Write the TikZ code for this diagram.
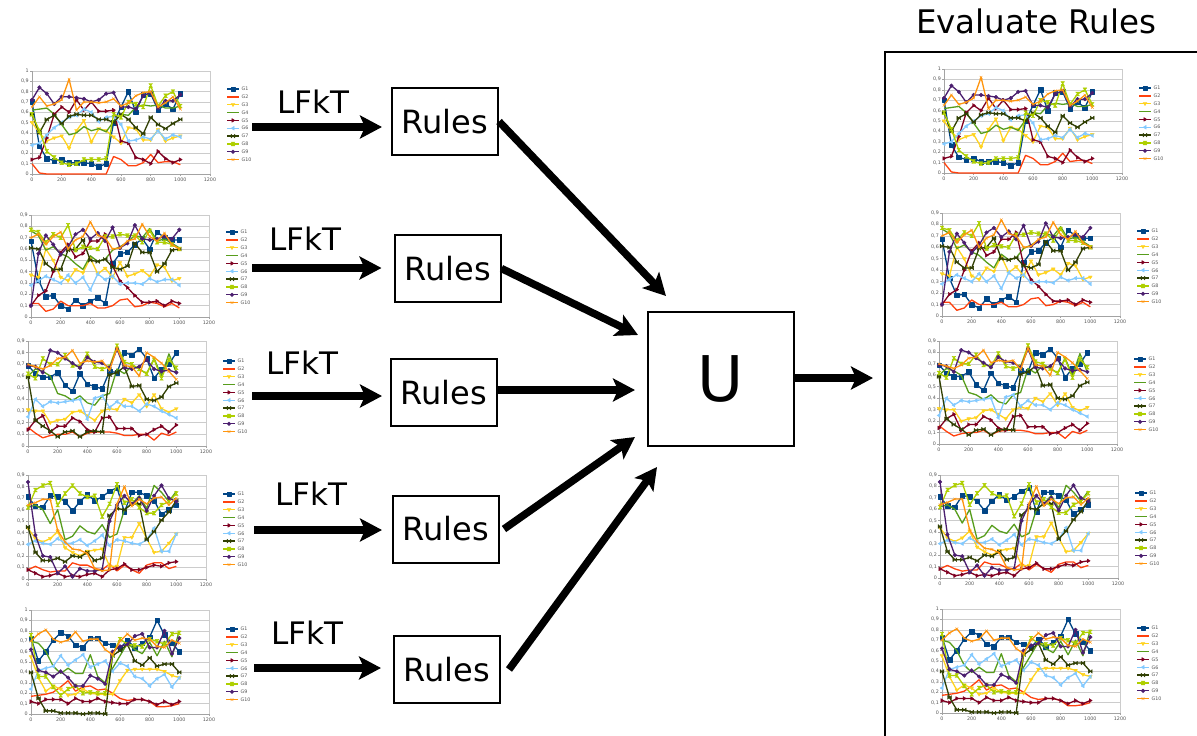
\documentclass[tikz,border=0pt]{standalone}
\usepackage{fontspec}
\setmainfont{DejaVu Sans}
\usetikzlibrary{arrows.meta}
\definecolor{g1}{HTML}{004586}
\definecolor{g2}{HTML}{FF420E}
\definecolor{g3}{HTML}{FFD320}
\definecolor{g4}{HTML}{579D1C}
\definecolor{g5}{HTML}{7E0021}
\definecolor{g6}{HTML}{83CAFF}
\definecolor{g7}{HTML}{314004}
\definecolor{g8}{HTML}{AECF00}
\definecolor{g9}{HTML}{4B1F6F}
\definecolor{g10}{HTML}{FF950E}
\definecolor{gridc}{HTML}{CCCCCC}
\definecolor{labc}{HTML}{555555}

\pgfdeclareplotmark{bigsq}{\pgfpathrectangle{\pgfqpoint{-1.2\pgfplotmarksize}{-1.2\pgfplotmarksize}}{\pgfqpoint{2.4\pgfplotmarksize}{2.4\pgfplotmarksize}}\pgfusepathqfillstroke}
\pgfdeclareplotmark{tridown}{\pgfpathmoveto{\pgfqpoint{0pt}{-\pgfplotmarksize}}\pgfpathlineto{\pgfqpoint{\pgfplotmarksize}{.6\pgfplotmarksize}}\pgfpathlineto{\pgfqpoint{-\pgfplotmarksize}{.6\pgfplotmarksize}}\pgfpathclose\pgfusepathqfillstroke}
\pgfdeclareplotmark{triright}{\pgfpathmoveto{\pgfqpoint{\pgfplotmarksize}{0pt}}\pgfpathlineto{\pgfqpoint{-.6\pgfplotmarksize}{\pgfplotmarksize}}\pgfpathlineto{\pgfqpoint{-.6\pgfplotmarksize}{-\pgfplotmarksize}}\pgfpathclose\pgfusepathqfillstroke}
\pgfdeclareplotmark{trileft}{\pgfpathmoveto{\pgfqpoint{-\pgfplotmarksize}{0pt}}\pgfpathlineto{\pgfqpoint{.6\pgfplotmarksize}{\pgfplotmarksize}}\pgfpathlineto{\pgfqpoint{.6\pgfplotmarksize}{-\pgfplotmarksize}}\pgfpathclose\pgfusepathqfillstroke}
\pgfdeclareplotmark{bowtie}{\pgfpathmoveto{\pgfqpoint{-\pgfplotmarksize}{\pgfplotmarksize}}\pgfpathlineto{\pgfqpoint{-\pgfplotmarksize}{-\pgfplotmarksize}}\pgfpathlineto{\pgfqpoint{\pgfplotmarksize}{\pgfplotmarksize}}\pgfpathlineto{\pgfqpoint{\pgfplotmarksize}{-\pgfplotmarksize}}\pgfpathclose\pgfusepathqfillstroke}
\pgfdeclareplotmark{hourglass}{\pgfpathmoveto{\pgfqpoint{-\pgfplotmarksize}{\pgfplotmarksize}}\pgfpathlineto{\pgfqpoint{\pgfplotmarksize}{\pgfplotmarksize}}\pgfpathlineto{\pgfqpoint{-\pgfplotmarksize}{-\pgfplotmarksize}}\pgfpathlineto{\pgfqpoint{\pgfplotmarksize}{-\pgfplotmarksize}}\pgfpathclose\pgfusepathqfillstroke}

\tikzset{
  serie/.style={draw=#1, line width=1.3pt, line join=round, mark size=1.9pt,
    mark options={fill=#1, draw=#1, line width=0.4pt, solid}},
  gridl/.style={draw=gridc, line width=0.6pt},
  axl/.style={draw=gridc!80!black, line width=0.6pt},
  ticklab/.style={text=labc, font=\fontsize{4.8}{4.8}\selectfont, inner sep=0pt},
  rulebox/.style={draw, line width=2pt, minimum width=106pt, minimum height=67pt,
    inner sep=0pt, font=\fontsize{32}{32}\selectfont},
  ubox/.style={draw, line width=2pt, minimum width=146pt, minimum height=134pt,
    inner sep=0pt, font=\fontsize{63}{63}\selectfont},
  lfkt/.style={font=\fontsize{31}{31}\selectfont, anchor=base, inner sep=0pt},
  bigarrow/.style={line width=7.5pt, -{Stealth[length=22pt,width=23pt,inset=5pt]}},
  frameline/.style={line width=2.8pt},
}

\newcommand\gseries[3]{%
  \gdef\gpts{}%
  \foreach \v [count=\i from 0] in {#3}{\xdef\gpts{\gpts(\i*50,\v)}}%
  \def\gdo{\draw[serie=#1] plot[mark=#2] coordinates}%
  \expandafter\gdo\expandafter{\gpts};%
}

\newcommand\gchart[6]{%
\begin{scope}[shift={(#2,#3)}]
  \pgfmathsetmacro\gyu{#4*10/#5}%
  \begin{scope}[x=0.148333pt, y=\gyu pt]
    \foreach \k in {1,...,#5} \draw[gridl] (0,\k/10) -- (1200,\k/10);
    \draw[gridl] (1200,0) -- (1200,#5/10);
    \draw[axl] (0,#5/10) -- (0,0) -- (1200,0);
    \foreach \k in {0,...,#5} {\draw[axl] (0,\k/10) -- ++(-2pt,0);
      \node[ticklab,anchor=east] (#1y\k) at ([xshift=-3pt]0,\k/10) {\ifnum\k=0 0\else\ifnum\k=10 1\else 0,\k\fi\fi};}
    \foreach \j in {0,200,...,1200} {\draw[axl] (\j,0) -- ++(0,-2pt);
      \node[ticklab,anchor=north] (#1x\j) at ([yshift=-3.5pt]\j,0) {\j};}
    #6
  \end{scope}
  \foreach \n/\c/\m in {1/g1/bigsq,2/g2/diamond*,3/g3/tridown,4/g4/triangle*,5/g5/triright,6/g6/trileft,7/g7/bowtie,8/g8/hourglass,9/g9/*,10/g10/x} {
    \pgfmathsetmacro\yy{-85+7.85*(\n-1)}
    \draw[serie=\c] (195,\yy) -- (207,\yy);
    \path[serie=\c] plot[mark=\m] coordinates {(201,\yy)};
    \node[ticklab,anchor=west] (#1l\n) at (209.5,\yy) {G\n};
  }
\end{scope}}

\newcommand\dataA{%
\gseries{g1}{bigsq}{0.70,0.27,0.15,0.13,0.14,0.11,0.11,0.11,0.10,0.07,0.10,0.50,0.65,0.80,0.60,0.77,0.78,0.62,0.68,0.63,0.78}
\gseries{g2}{diamond*}{0.10,0.01,0,0,0,0,0,0,0,0,0,0.17,0.14,0.08,0.08,0.11,0.19,0.11,0.12,0.12,0.09}
\gseries{g3}{tridown}{0.50,0.40,0.32,0.35,0.37,0.25,0.42,0.52,0.31,0.44,0.42,0.36,0.30,0.45,0.44,0.33,0.33,0.43,0.32,0.35,0.37}
\gseries{g4}{triangle*}{0.62,0.63,0.64,0.58,0.48,0.38,0.40,0.46,0.42,0.44,0.41,0.51,0.58,0.57,0.65,0.67,0.66,0.67,0.64,0.64,0.66}
\gseries{g5}{triright}{0.14,0.16,0.35,0.58,0.65,0.60,0.72,0.62,0.70,0.61,0.61,0.62,0.32,0.30,0.16,0.14,0.10,0.22,0.15,0.11,0.14}
\gseries{g6}{trileft}{0.28,0.30,0.38,0.45,0.50,0.55,0.57,0.63,0.60,0.51,0.55,0.56,0.48,0.32,0.33,0.36,0.34,0.42,0.34,0.38,0.36}
\gseries{g7}{bowtie}{0.58,0.40,0.53,0.57,0.49,0.56,0.58,0.57,0.57,0.53,0.53,0.50,0.58,0.53,0.45,0.39,0.55,0.48,0.44,0.49,0.53}
\gseries{g8}{hourglass}{0.58,0.42,0.22,0.16,0.11,0.09,0.10,0.14,0.14,0.14,0.15,0.58,0.55,0.70,0.68,0.65,0.86,0.66,0.76,0.80,0.66}
\gseries{g9}{*}{0.72,0.84,0.78,0.68,0.75,0.75,0.74,0.73,0.70,0.72,0.78,0.79,0.65,0.65,0.63,0.76,0.79,0.64,0.71,0.71,0.77}
\gseries{g10}{x}{0.65,0.75,0.66,0.68,0.72,0.92,0.62,0.70,0.70,0.69,0.70,0.73,0.66,0.69,0.76,0.79,0.80,0.65,0.69,0.75,0.63}
}
\newcommand\dataB{%
\gseries{g1}{bigsq}{0.67,0.33,0.18,0.19,0.10,0.07,0.15,0.10,0.14,0.17,0.12,0.47,0.56,0.57,0.64,0.69,0.60,0.75,0.70,0.68,0.68}
\gseries{g2}{diamond*}{0.12,0.12,0.05,0.07,0.14,0.10,0.10,0.10,0.12,0.08,0.08,0.10,0.15,0.16,0.09,0.10,0.13,0.12,0.09,0.12,0.08}
\gseries{g3}{tridown}{0.37,0.35,0.60,0.50,0.35,0.32,0.42,0.39,0.52,0.38,0.43,0.35,0.48,0.36,0.38,0.41,0.36,0.46,0.44,0.32,0.34}
\gseries{g4}{triangle*}{0.76,0.72,0.59,0.62,0.56,0.53,0.47,0.42,0.54,0.49,0.51,0.59,0.62,0.66,0.72,0.70,0.78,0.67,0.69,0.65,0.61}
\gseries{g5}{triright}{0.10,0.19,0.23,0.40,0.57,0.64,0.53,0.56,0.67,0.67,0.73,0.45,0.32,0.26,0.19,0.13,0.13,0.14,0.10,0.14,0.12}
\gseries{g6}{trileft}{0.28,0.32,0.36,0.33,0.30,0.37,0.30,0.35,0.24,0.38,0.33,0.36,0.29,0.30,0.30,0.29,0.34,0.31,0.33,0.33,0.28}
\gseries{g7}{bowtie}{0.61,0.60,0.47,0.42,0.42,0.59,0.60,0.68,0.50,0.49,0.51,0.44,0.42,0.45,0.65,0.57,0.57,0.40,0.47,0.59,0.60}
\gseries{g8}{hourglass}{0.77,0.75,0.66,0.73,0.70,0.81,0.59,0.62,0.61,0.60,0.71,0.71,0.73,0.72,0.72,0.66,0.76,0.66,0.66,0.64,0.60}
\gseries{g9}{*}{0.10,0.56,0.72,0.64,0.55,0.62,0.73,0.77,0.69,0.74,0.67,0.79,0.61,0.65,0.81,0.69,0.68,0.69,0.71,0.69,0.77}
\gseries{g10}{x}{0.70,0.73,0.64,0.71,0.75,0.60,0.68,0.71,0.84,0.72,0.70,0.60,0.61,0.67,0.69,0.82,0.71,0.67,0.74,0.64,0.60}
}
\newcommand\dataC{%
\gseries{g1}{bigsq}{0.69,0.62,0.59,0.59,0.63,0.52,0.47,0.62,0.53,0.51,0.49,0.64,0.63,0.80,0.78,0.83,0.75,0.58,0.66,0.70,0.80}
\gseries{g2}{diamond*}{0.16,0.11,0.07,0.09,0.10,0.10,0.12,0.08,0.11,0.12,0.12,0.12,0.11,0.09,0.09,0.10,0.10,0.05,0.11,0.09,0.12}
\gseries{g3}{tridown}{0.31,0.30,0.30,0.20,0.22,0.23,0.29,0.30,0.26,0.22,0.30,0.32,0.31,0.40,0.37,0.44,0.34,0.44,0.32,0.29,0.32}
\gseries{g4}{triangle*}{0.60,0.66,0.64,0.60,0.45,0.43,0.39,0.43,0.37,0.35,0.43,0.45,0.66,0.62,0.69,0.66,0.62,0.75,0.60,0.79,0.63}
\gseries{g5}{triright}{0.14,0.22,0.26,0.12,0.17,0.17,0.24,0.21,0.14,0.12,0.24,0.25,0.15,0.15,0.15,0.09,0.10,0.14,0.17,0.12,0.18}
\gseries{g6}{trileft}{0.25,0.40,0.34,0.38,0.37,0.38,0.39,0.40,0.23,0.41,0.43,0.33,0.38,0.34,0.34,0.30,0.36,0.34,0.30,0.27,0.24}
\gseries{g7}{bowtie}{0.59,0.22,0.17,0.13,0.08,0.12,0.13,0.08,0.12,0.13,0.12,0.61,0.63,0.68,0.51,0.52,0.40,0.39,0.42,0.51,0.54}
\gseries{g8}{hourglass}{0.62,0.58,0.75,0.70,0.70,0.78,0.69,0.68,0.79,0.68,0.66,0.68,0.86,0.72,0.70,0.66,0.62,0.74,0.58,0.74,0.67}
\gseries{g9}{*}{0.69,0.68,0.63,0.82,0.80,0.75,0.71,0.67,0.76,0.72,0.71,0.67,0.83,0.67,0.66,0.68,0.74,0.66,0.64,0.65,0.63}
\gseries{g10}{x}{0.70,0.68,0.66,0.69,0.75,0.76,0.82,0.71,0.73,0.72,0.73,0.65,0.84,0.69,0.68,0.60,0.80,0.76,0.71,0.64,0.57}
}
\newcommand\dataD{%
\gseries{g1}{bigsq}{0.71,0.63,0.62,0.72,0.71,0.67,0.59,0.67,0.73,0.68,0.71,0.76,0.79,0.58,0.75,0.75,0.72,0.68,0.56,0.60,0.64}
\gseries{g2}{diamond*}{0.08,0.11,0.08,0.06,0.07,0.07,0.14,0.12,0.12,0.09,0.08,0.13,0.07,0.12,0.08,0.05,0.12,0.14,0.14,0.09,0.11}
\gseries{g3}{tridown}{0.44,0.35,0.32,0.35,0.41,0.27,0.23,0.20,0.24,0.25,0.26,0.11,0.11,0.36,0.36,0.48,0.35,0.23,0.24,0.31,0.39}
\gseries{g4}{triangle*}{0.62,0.64,0.60,0.48,0.60,0.34,0.37,0.46,0.41,0.39,0.47,0.36,0.39,0.60,0.65,0.72,0.61,0.81,0.75,0.67,0.76}
\gseries{g5}{triright}{0.08,0.05,0.02,0.03,0.05,0.02,0.03,0.02,0.04,0.05,0.02,0.08,0.09,0.13,0.08,0.08,0.10,0.12,0.11,0.14,0.15}
\gseries{g6}{trileft}{0.30,0.33,0.31,0.30,0.35,0.31,0.31,0.34,0.29,0.33,0.38,0.29,0.34,0.33,0.31,0.30,0.34,0.44,0.24,0.24,0.39}
\gseries{g7}{bowtie}{0.45,0.23,0.16,0.16,0.18,0.15,0.20,0.19,0.23,0.16,0.18,0.55,0.61,0.60,0.65,0.65,0.34,0.41,0.51,0.58,0.68}
\gseries{g8}{hourglass}{0.62,0.77,0.81,0.83,0.64,0.74,0.81,0.74,0.71,0.72,0.54,0.65,0.82,0.66,0.69,0.62,0.57,0.57,0.64,0.67,0.74}
\gseries{g9}{*}{0.84,0.38,0.20,0.19,0.05,0.11,0.02,0.09,0.07,0.07,0.08,0.50,0.64,0.72,0.65,0.70,0.59,0.72,0.81,0.70,0.67}
\gseries{g10}{x}{0.64,0.66,0.69,0.69,0.42,0.32,0.26,0.25,0.22,0.09,0.07,0.08,0.65,0.80,0.63,0.69,0.65,0.70,0.71,0.64,0.70}
}
\newcommand\dataE{%
\gseries{g1}{bigsq}{0.73,0.51,0.60,0.71,0.78,0.75,0.66,0.64,0.73,0.73,0.68,0.66,0.63,0.71,0.64,0.68,0.74,0.90,0.76,0.68,0.60}
\gseries{g2}{diamond*}{0.17,0.18,0.19,0.21,0.26,0.32,0.22,0.26,0.27,0.23,0.24,0.20,0.15,0.13,0.14,0.14,0.12,0.07,0.07,0.08,0.10}
\gseries{g3}{tridown}{0.55,0.35,0.22,0.27,0.24,0.18,0.19,0.24,0.20,0.19,0.19,0.19,0.32,0.42,0.43,0.43,0.43,0.43,0.41,0.37,0.35}
\gseries{g4}{triangle*}{0.70,0.68,0.60,0.46,0.39,0.44,0.39,0.39,0.57,0.36,0.30,0.44,0.56,0.68,0.62,0.58,0.69,0.56,0.70,0.55,0.80}
\gseries{g5}{triright}{0.12,0.10,0.14,0.14,0.14,0.10,0.15,0.12,0.12,0.15,0.12,0.11,0.10,0.10,0.14,0.14,0.12,0.09,0.12,0.09,0.12}
\gseries{g6}{trileft}{0.24,0.42,0.44,0.46,0.56,0.47,0.52,0.57,0.45,0.48,0.51,0.41,0.49,0.46,0.36,0.34,0.27,0.34,0.38,0.26,0.35}
\gseries{g7}{bowtie}{0.40,0.15,0.03,0.03,0.01,0.01,0.01,0.00,0.01,0.01,0.00,0.56,0.61,0.67,0.51,0.47,0.54,0.46,0.48,0.48,0.40}
\gseries{g8}{hourglass}{0.76,0.36,0.36,0.26,0.18,0.24,0.27,0.20,0.21,0.20,0.20,0.57,0.72,0.67,0.66,0.65,0.72,0.70,0.67,0.77,0.78}
\gseries{g9}{*}{0.62,0.42,0.40,0.36,0.41,0.35,0.27,0.27,0.37,0.34,0.29,0.60,0.65,0.67,0.75,0.77,0.64,0.64,0.80,0.58,0.73}
\gseries{g10}{x}{0.70,0.77,0.81,0.72,0.69,0.71,0.79,0.70,0.72,0.72,0.62,0.57,0.70,0.77,0.71,0.73,0.72,0.65,0.64,0.71,0.68}
}

\begin{document}
\begin{tikzpicture}[x=1pt, y=-1pt]
\useasboundingbox (0,0) rectangle (1197,736);
\clip (0,0) rectangle (1197,736);
\fill[white] (0,0) rectangle (1197,736);

% charts, left column
\gchart{L1}{32}{174}{103}{10}{\dataA}
\gchart{L2}{31}{317}{102}{9}{\dataB}
\gchart{L3}{28}{446}{105}{9}{\dataC}
\gchart{L4}{28}{579}{104}{9}{\dataD}
\gchart{L5}{31}{714}{104}{10}{\dataE}
% charts, right column
\gchart{R1}{944}{173}{104}{10}{\dataA}
\gchart{R2}{942}{316}{103}{9}{\dataB}
\gchart{R3}{939}{444}{103}{9}{\dataC}
\gchart{R4}{940}{578}{103}{9}{\dataD}
\gchart{R5}{942}{713}{104}{10}{\dataE}

% frame on the right
\coordinate (fr) at (1215,52);
\coordinate (fc) at (885,52);
\coordinate (fb) at (885,760);
\draw[frameline] (fr) -- (fc) -- (fb);
\node[font=\fontsize{32.5}{32.5}\selectfont, anchor=base, inner sep=0pt] (ev) at (1036,34) {Evaluate Rules};

% rules boxes and union
\node[rulebox] (r1) at (445,121.5) {Rules};
\node[rulebox] (r2) at (447.5,268.5) {Rules};
\node[rulebox] (r3) at (444,392.5) {Rules};
\node[rulebox] (r4) at (446,529) {Rules};
\node[rulebox] (r5) at (447,669.5) {Rules};
\node[ubox] (u) at (721,379) {U};

% LFkT labels
\node[lfkt] (l1) at (313.5,113) {LFkT};
\node[lfkt] (l2) at (305,250) {LFkT};
\node[lfkt] (l3) at (302,374) {LFkT};
\node[lfkt] (l4) at (311,505) {LFkT};
\node[lfkt] (l5) at (307,644) {LFkT};

% arrows from charts to rules
\coordinate (a1) at (252,127);
\coordinate (a2) at (252,268);
\coordinate (a3) at (252,396);
\coordinate (a4) at (254,530);
\coordinate (a5) at (254,668);
\draw[bigarrow, shorten >=9pt] (a1) -- (a1 -| r1.west);
\draw[bigarrow, shorten >=12pt] (a2) -- (a2 -| r2.west);
\draw[bigarrow, shorten >=8pt] (a3) -- (a3 -| r3.west);
\draw[bigarrow, shorten >=10pt] (a4) -- (a4 -| r4.west);
\draw[bigarrow, shorten >=12pt] (a5) -- (a5 -| r5.west);

% arrows from rules to U
\coordinate (t1) at (666,296);
\coordinate (t2) at (638,335);
\coordinate (t3) at (635,390);
\coordinate (t4) at (635,437);
\coordinate (t5) at (657,467);
\draw[bigarrow] (r1.east) -- (t1);
\draw[bigarrow] (r2.east) -- (t2);
\draw[bigarrow] (r3.east |- t3) -- (t3);
\draw[bigarrow] ([xshift=4pt]r4.east) -- (t4);
\draw[bigarrow] ([xshift=8pt]r5.east) -- (t5);

% arrow out of U
\coordinate (o) at (873,378);
\draw[bigarrow] (u.east |- o) -- (o);
\end{tikzpicture}
\end{document}
